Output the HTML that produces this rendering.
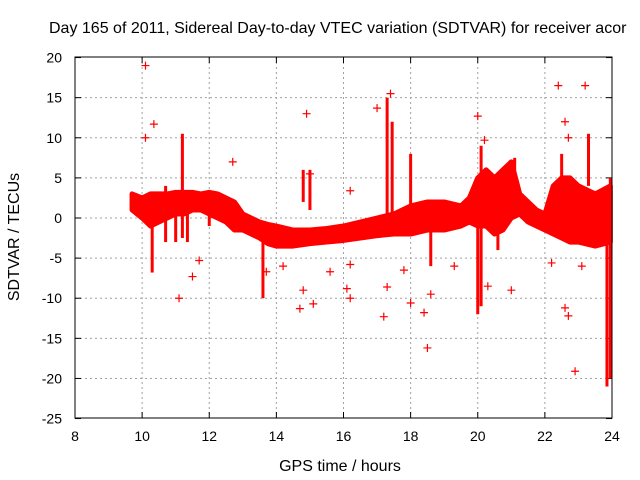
<!DOCTYPE html>
<html><head><meta charset="utf-8"><style>
body{margin:0;background:#fff}
svg{display:block;font-family:"Liberation Sans",sans-serif}
</style></head><body>
<svg id="chart" width="640" height="480">
<text x="49" y="33" font-size="16">Day 165 of 2011, Sidereal Day-to-day VTEC variation (SDTVAR) for receiver acor</text>
<text x="340" y="471" font-size="16" text-anchor="middle">GPS time / hours</text>
<text transform="translate(19,237) rotate(-90)" font-size="16" text-anchor="middle">SDTVAR / TECUs</text>
<g id="grid"></g>
<g id="ticks"></g>
<g id="data"></g>
<rect x="75" y="57" width="537" height="361" fill="none" stroke="#000" stroke-width="1"/>
</svg>
<script>
const xTicks=[8,10,12,14,16,18,20,22,24];
const yTicks=[20,15,10,5,0,-5,-10,-15,-20,-25];
const bandT=[9.7,10.0,10.25,10.5,10.75,11.0,11.25,11.5,11.75,12.0,12.25,12.5,12.75,13.0,13.25,13.5,13.75,14.0,14.5,15.0,15.5,16.0,16.5,17.0,17.5,18.0,18.5,19.0,19.5,19.75,20.0,20.25,20.5,20.75,21.0,21.25,21.5,21.75,22.0,22.25,22.5,22.75,23.0,23.5,23.95];
const bandLo=[1,0,-1,-0.5,0,0.5,0.5,1,1,0.5,0,-0.5,-1.5,-1.5,-2,-2.5,-3.2,-3.5,-3.5,-3.2,-3,-2.8,-2.5,-2.2,-2,-2,-1.5,-1.5,-1,-0.5,-1,-1,-2,-1.5,0,0.5,-0.5,-1,-1.5,-2,-2.5,-3,-3,-3.5,-3];
const bandHi=[3,2.5,3,3,3,3.2,3.2,3.2,3,3.2,3,2.5,2,0.5,0,-0.5,-0.8,-1,-1.5,-1.5,-1.3,-1,-0.5,0,0.5,1.5,2,2,1.5,2.5,5,6,5,6,7,3,2,1,0.5,4,5,5,4,3,4];
const spikeT=[10.3,10.7,11.0,11.2,11.35,12.0,13.6,14.8,15.0,17.3,17.45,18.0,18.6,20.0,20.1,20.6,21.1,22.5,23.3,23.85,23.95];
const spikeLo=[-6.8,-3,-3,-2.5,-3,-1,-10,2,1,-2,-1,0,-6,-12,-11,-4,0,0,4,-21,-20];
const spikeHi=[0,4,2,10.5,3,3,-3,6,6,15,12,8,-1,5,9,1,7.5,8,10.5,0,5];
const outT=[10.1,10.1,10.35,11.1,11.5,11.7,12.7,14.9,14.8,14.7,15.1,15.0,16.1,16.2,16.2,16.2,17.0,17.2,17.3,17.4,18.0,18.4,18.5,18.6,19.3,20.0,20.3,22.2,22.4,22.6,22.7,22.9,23.1,23.2,22.6,22.7,20.2,13.7,14.2,15.6,17.8,21.0];
const outV=[19,10,11.7,-10,-7.3,-5.3,7,13,-9,-11.3,-10.7,5.5,-8.8,-10,3.4,-5.8,13.7,-12.3,-8.6,15.5,-10.6,-11.8,-16.2,-9.5,-6,12.7,-8.5,-5.6,16.5,-11.2,-12.2,-19.1,-6,16.5,12,10,9.7,-6.7,-6,-6.7,-6.5,-9];
const NS='http://www.w3.org/2000/svg';
const X=t=>75+(t-8)*537/16;
const Y=v=>218-v*361/45;
function mk(tag,attrs,parent){const e=document.createElementNS(NS,tag);for(const k in attrs)e.setAttribute(k,attrs[k]);parent.appendChild(e);return e;}
const grid=document.getElementById('grid'),ticks=document.getElementById('ticks'),data=document.getElementById('data');
xTicks.forEach(t=>{
 if(t>8&&t<24){const l=mk('line',{x1:X(t),x2:X(t),y1:57,y2:418,stroke:'#a0a0a0','stroke-dasharray':'2,3'},grid);
 
 }
 mk('line',{x1:X(t),x2:X(t),y1:418,y2:412,stroke:'#000'},ticks);
 mk('line',{x1:X(t),x2:X(t),y1:57,y2:63,stroke:'#000'},ticks);
 const tx=mk('text',{x:X(t),y:441,'font-size':14,'text-anchor':'middle'},ticks);tx.textContent=t;
 
 
});
yTicks.forEach(v=>{
 if(v<20&&v>-25){const l=mk('line',{x1:75,x2:612,y1:Y(v),y2:Y(v),stroke:'#a0a0a0','stroke-dasharray':'2,3'},grid);
 
 }
 mk('line',{x1:75,x2:81,y1:Y(v),y2:Y(v),stroke:'#000'},ticks);
 mk('line',{x1:612,x2:606,y1:Y(v),y2:Y(v),stroke:'#000'},ticks);
 const tx=mk('text',{x:62,y:Y(v)+5,'font-size':14,'text-anchor':'end'},ticks);tx.textContent=v;
 
 
});
let pts=bandT.map((t,i)=>X(t)+','+Y(bandHi[i]));
for(let i=bandT.length-1;i>=0;i--)pts.push(X(bandT[i])+','+Y(bandLo[i]));
const band=mk('polygon',{points:pts.join(' '),fill:'#f00',stroke:'#f00','stroke-width':5,'stroke-linejoin':'round'},data);


spikeT.forEach((t,i)=>{
 const s=mk('line',{x1:X(t),x2:X(t),y1:Y(spikeHi[i]),y2:Y(spikeLo[i]),stroke:'#f00','stroke-width':3},data);
 
 
});
outT.forEach((t,i)=>{
 const x=X(t),y=Y(outV[i]);
 const p=mk('path',{d:`M${x-4},${y}H${x+4}M${x},${y-4}V${y+4}`,stroke:'#f00','stroke-width':1.2},data);
 
 
});
</script>
</body></html>
